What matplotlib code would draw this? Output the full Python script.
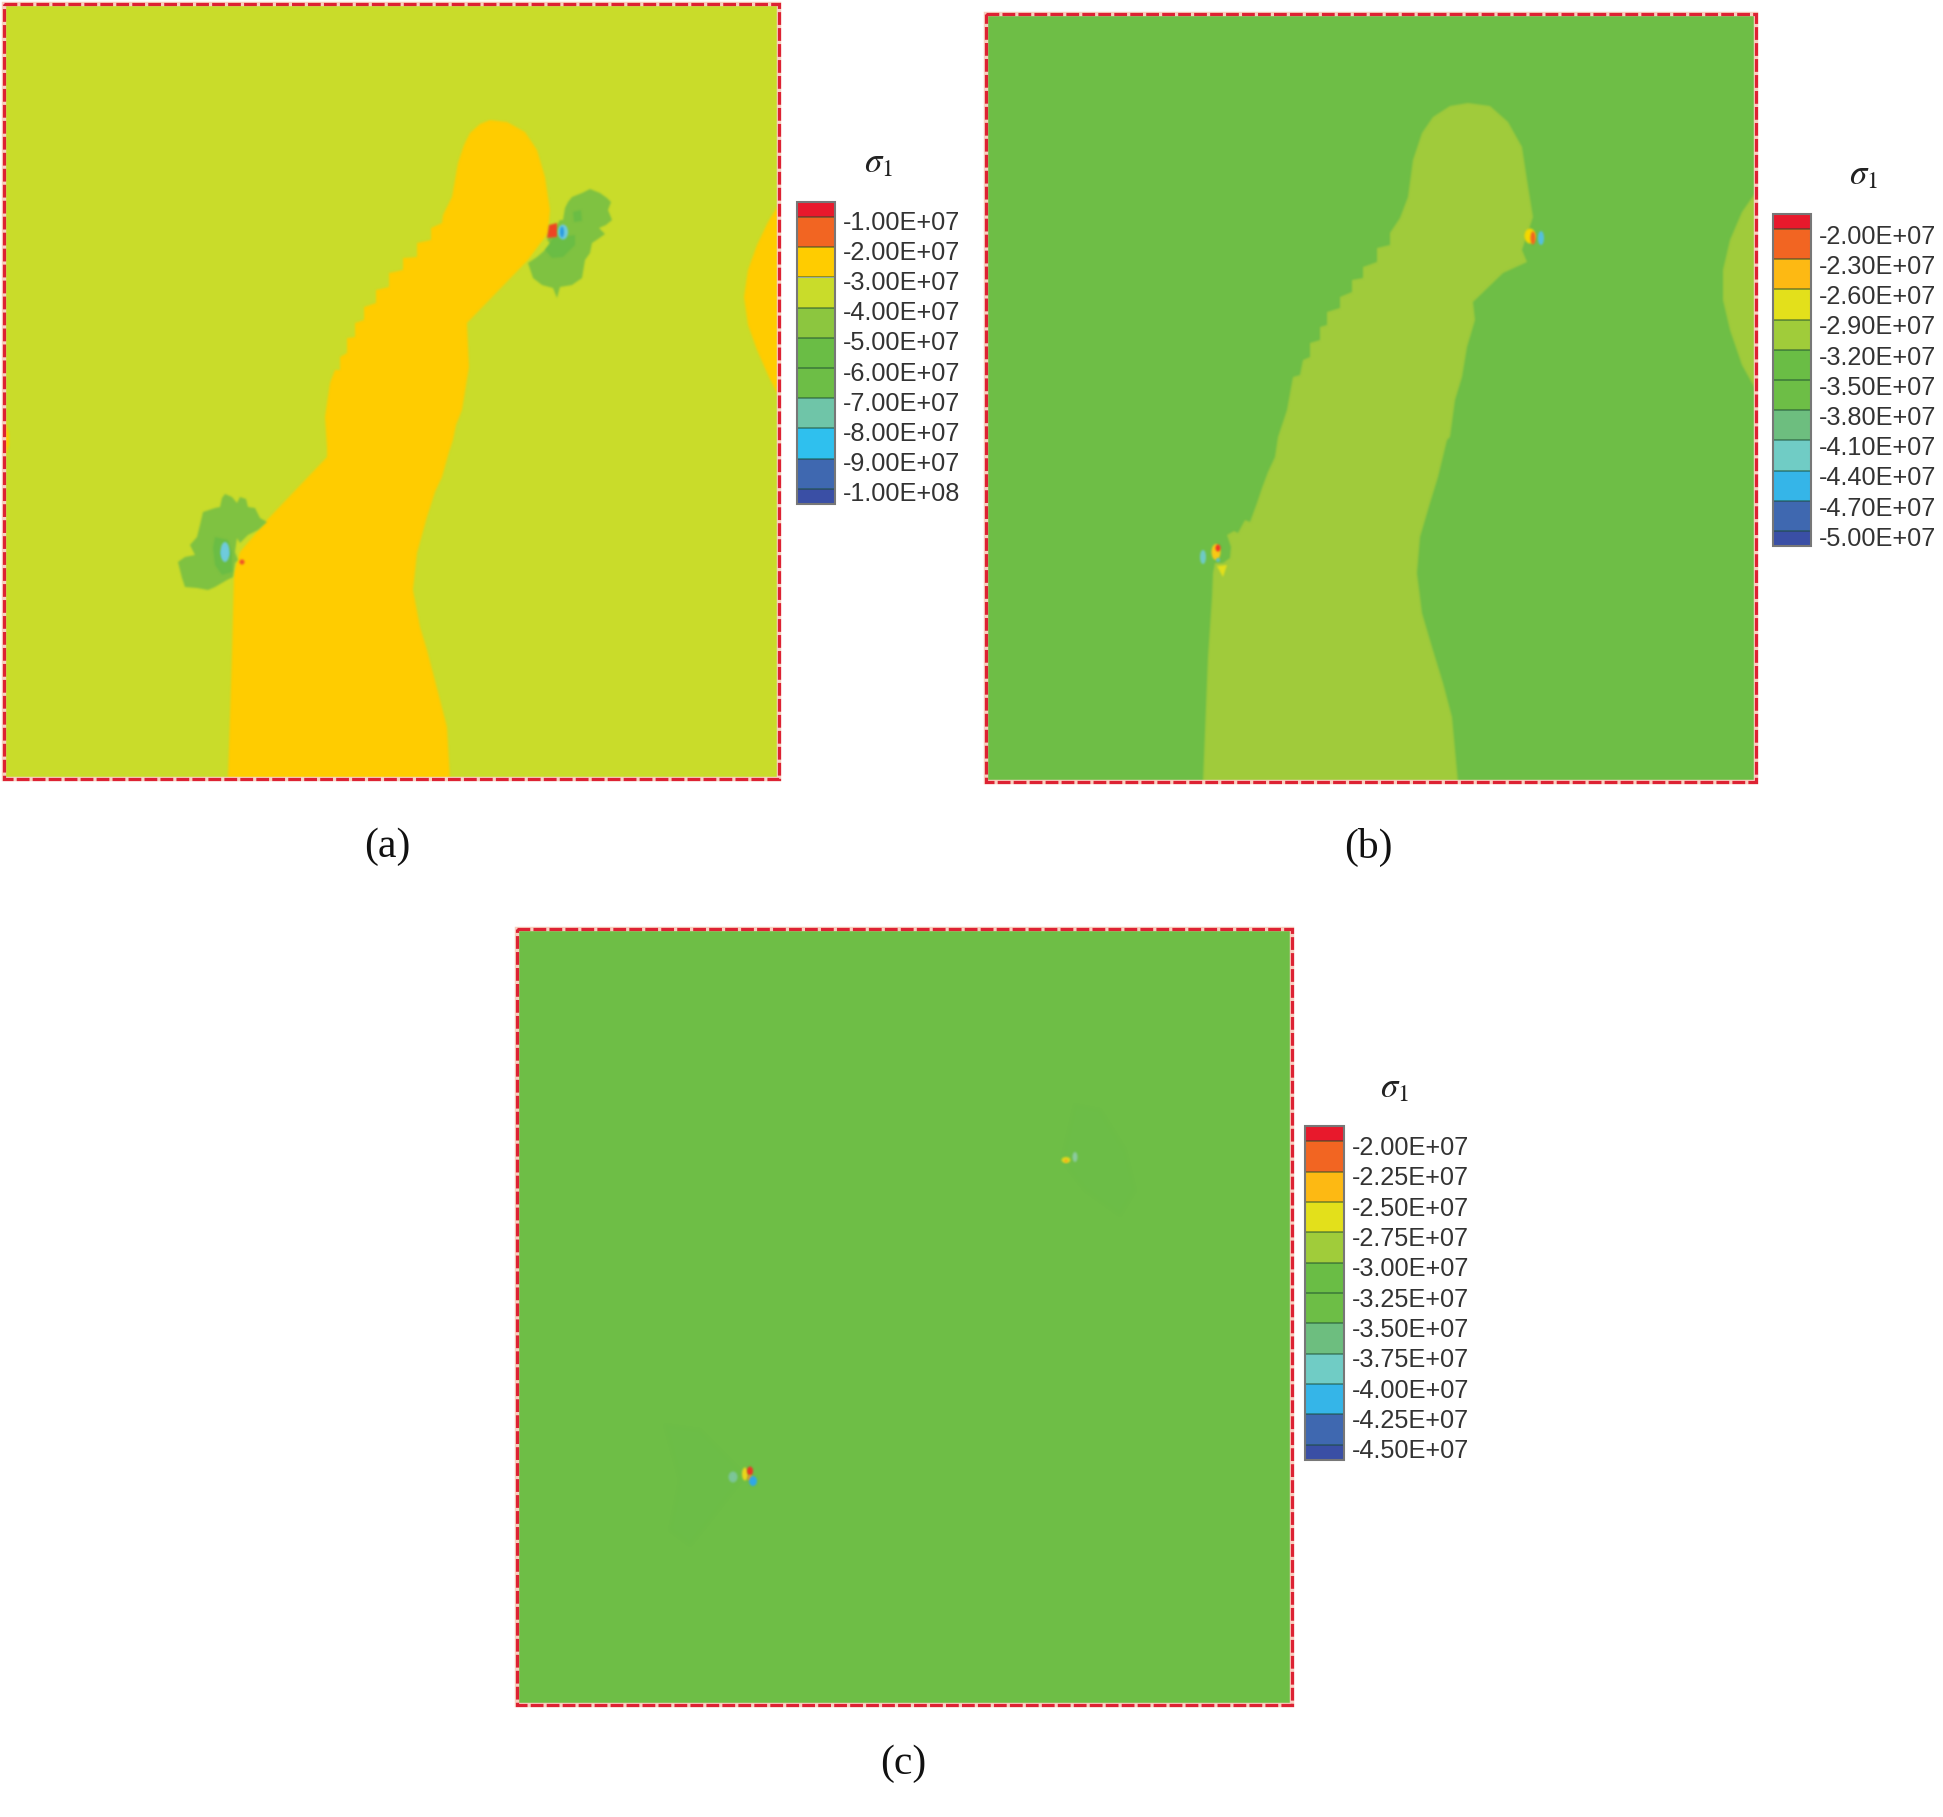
import numpy as np
import matplotlib
matplotlib.use('Agg')
import matplotlib.pyplot as plt
from matplotlib.patches import Polygon, Ellipse, Rectangle

W, H = 1943, 1817
plt.rcParams['mathtext.fontset'] = 'stix'

# legend labels
labels_a = ['-1.00E+07', '-2.00E+07', '-3.00E+07', '-4.00E+07', '-5.00E+07', '-6.00E+07',
            '-7.00E+07', '-8.00E+07', '-9.00E+07', '-1.00E+08']
labels_b = ['-2.00E+07', '-2.30E+07', '-2.60E+07', '-2.90E+07', '-3.20E+07', '-3.50E+07',
            '-3.80E+07', '-4.10E+07', '-4.40E+07', '-4.70E+07', '-5.00E+07']
labels_c = ['-2.00E+07', '-2.25E+07', '-2.50E+07', '-2.75E+07', '-3.00E+07', '-3.25E+07',
            '-3.50E+07', '-3.75E+07', '-4.00E+07', '-4.25E+07', '-4.50E+07']

# legend colours, top to bottom
colors_a = ['#E8192C', '#F26522', '#FFCC00', '#C9DC2A', '#8CC63F', '#6ABD45',
            '#6DBE46', '#6FC5A8', '#2FC0EE', '#3F68B0', '#3A4FA5']
colors_b = ['#E8192C', '#F26522', '#FDB913', '#E3E01B', '#A0CC3A', '#6ABD45',
            '#6DBE46', '#6DBE7F', '#70CCC5', '#35B5E8', '#3F68B0', '#3A4FA5']

# contour outlines (image pixels)
band_a = [(228, 779), (232, 653), (234, 573), (240, 552), (267, 520), (327, 457), (327, 447), (325, 417),
          (330, 383), (335, 370), (340, 370), (340, 357), (347, 353), (347, 338), (355, 337), (355, 323),
          (364, 320), (364, 307), (376, 303), (376, 290), (389, 287), (389, 273), (403, 270), (403, 258),
          (417, 257), (417, 243), (431, 240), (431, 228), (442, 223), (443, 215), (452, 197), (458, 163),
          (464, 145), (470, 133), (480, 124), (490, 120), (507, 122), (525, 132), (537, 150), (545, 177),
          (550, 210), (548, 233), (528, 260), (467, 323), (469, 367), (462, 410), (456, 425), (453, 440),
          (449, 452), (442, 477), (435, 492), (427, 517), (417, 553), (413, 590), (420, 627), (427, 650),
          (433, 673), (447, 727), (450, 779)]
lens_a = [(779, 204), (768, 222), (757, 245), (748, 270), (744, 297), (748, 325), (757, 350), (768, 375), (779, 397)]
sliver_a = [(4, 415), (9, 435), (9, 445), (4, 460)]
patch_a1 = [(568, 202), (572, 197), (582, 193), (590, 189), (600, 193), (607, 198), (611, 202), (608, 210),
            (612, 220), (606, 225), (599, 228), (605, 234), (598, 239), (592, 243), (590, 253), (585, 260),
            (582, 278), (572, 285), (560, 287), (557, 298), (553, 288), (542, 285), (533, 278), (528, 263),
            (537, 257), (545, 250), (552, 245), (547, 240), (560, 220), (563, 220), (565, 208)]
patch_a2 = [(222, 498), (225, 494), (232, 497), (237, 503), (240, 497), (246, 499), (248, 507), (255, 508),
            (260, 518), (267, 522), (258, 530), (248, 535), (240, 543), (237, 538), (236, 545), (235, 552),
            (238, 560), (235, 563), (233, 577), (227, 580), (215, 587), (208, 590), (197, 588), (185, 587),
            (182, 578), (178, 562), (185, 557), (195, 555), (190, 545), (197, 537), (200, 525), (203, 512),
            (215, 508), (220, 507)]
inner_a1 = [(545, 250), (553, 238), (575, 235), (575, 245), (563, 257), (552, 258)]
inner_a2 = [(215, 537), (228, 540), (232, 552), (232, 572), (222, 575), (215, 565), (213, 548)]
spot_a1 = [(573, 212), (581, 210), (582, 221), (574, 222)]
red_a1 = [(549, 225), (557, 223), (557, 237), (547, 238)]
blue_a2 = [(225, 545), (229, 555), (223, 558), (221, 553)]
band_b = [(1203, 782), (1208, 657), (1212, 597), (1213, 573), (1215, 563), (1223, 563), (1230, 558), (1231, 547),
          (1227, 535), (1234, 531), (1238, 533), (1245, 520), (1250, 522), (1257, 503), (1262, 488), (1268, 472),
          (1275, 457), (1278, 437), (1287, 410), (1293, 377), (1300, 375), (1303, 360), (1310, 357), (1310, 343),
          (1320, 340), (1320, 327), (1327, 325), (1327, 312), (1340, 308), (1340, 297), (1352, 292), (1352, 280),
          (1363, 278), (1363, 267), (1377, 262), (1377, 248), (1390, 245), (1390, 233), (1400, 218), (1408, 197),
          (1413, 160), (1422, 133), (1433, 117), (1450, 106), (1468, 103), (1490, 106), (1508, 122), (1522, 147),
          (1527, 180), (1533, 217), (1522, 250), (1527, 262), (1503, 273), (1473, 302), (1475, 320), (1467, 347),
          (1462, 377), (1455, 400), (1450, 437), (1447, 440), (1438, 477), (1430, 503), (1420, 537), (1417, 573),
          (1422, 613), (1432, 647), (1443, 683), (1452, 717), (1458, 782)]
lens_b = [(1756, 192), (1742, 212), (1730, 240), (1723, 270), (1723, 300), (1730, 330), (1742, 365), (1756, 390)]
triangle_b = [(1217, 566), (1227, 565), (1223, 577)]
patch_c1 = [(1075, 1105), (1100, 1110), (1125, 1150), (1135, 1190), (1120, 1215), (1085, 1190), (1062, 1160)]
patch_c2 = [(665, 1425), (700, 1430), (745, 1475), (710, 1520), (690, 1545), (670, 1530), (680, 1480)]

# hot spots at the crack tips: x, y, width, height, colour
tips_a = [(563, 232, 10, 15, '#6FCBDC'), (562, 232, 4, 11, '#2B9BE0'),
          (225, 552, 9, 20, '#6FCBDC'), (242, 562, 5, 5, '#F0522A')]
tips_b = [(1530, 236, 11, 15, '#F5D800'), (1533, 238, 5, 13, '#F26522'), (1541, 238, 6, 14, '#55C0E0'),
          (1216, 552, 9, 16, '#F9C915'), (1218, 548, 5, 7, '#EE3524'), (1203, 557, 6, 14, '#6FCBC8'),
          (1218, 560, 4, 4, '#60C0C0')]
tips_c = [(745, 1474, 6, 13, '#EBD61C'), (750, 1471, 6, 9, '#EE3524'), (750, 1478, 5, 6, '#F7941D'),
          (753, 1481, 8, 10, '#2FA8E8'), (733, 1477, 9, 11, '#7CC698'),
          (1066, 1160, 9, 6, '#E3D81B'), (1066, 1161, 3, 3, '#F7A51D'), (1075, 1157, 5, 10, '#8CCBA0')]


def blur(img, dpi):
    # soften only the alpha so the shape keeps its own colour
    pad = 6
    flat = img.reshape(-1, 4)
    color = flat[np.argmax(flat[:, 3])][:3]
    alpha = np.pad(img[:, :, 3], pad)
    for axis in [0, 1]:
        alpha = sum(w * np.roll(alpha, i - 2, axis=axis) for i, w in enumerate([1, 4, 6, 4, 1])) / 16
    out = np.zeros(alpha.shape + (4,))
    out[:, :, :3] = color
    out[:, :, 3] = alpha
    return out, -pad, -pad


def makeAxes(left, top, right, bottom):
    return fig.add_axes([left / W, 1 - bottom / H, (right - left) / W, (bottom - top) / H])


def drawPanel(box, background, shapes, tips):
    left, top, right, bottom = box
    ax = makeAxes(left, top, right, bottom)
    ax.set_xlim(left, right)
    ax.set_ylim(bottom, top)
    ax.axis('off')
    ax.add_patch(Rectangle((left, top), right - left, bottom - top, color=background, lw=0))
    for pts, col in shapes:
        p = Polygon(pts, closed=True, facecolor=col, edgecolor='none')
        p.set_agg_filter(blur)
        ax.add_patch(p)
    for x, y, w, h, col in tips:
        e = Ellipse((x, y), w, h, facecolor=col, edgecolor='none')
        e.set_agg_filter(blur)
        ax.add_patch(e)
    ax.add_patch(Rectangle((left, top), right - left, bottom - top, facecolor='none',
                           edgecolor='#F8CFC0', lw=3.2, clip_on=False))
    ax.add_patch(Rectangle((left, top), right - left, bottom - top, facecolor='none', edgecolor='#DD2233',
                           lw=2.3, linestyle=(0, (4.0, 1.0)), clip_on=False))


def drawLegend(box, labels, colors, title_x, title_y, label_shift):
    left, top, right, bottom = box
    n = len(labels)
    ax = makeAxes(left, top, right, bottom)
    ax.set_xlim(0, 1)
    ax.set_ylim(n, 0)
    ax.axis('off')
    edges = [0] + [i + 0.5 for i in range(n)] + [n]
    for i, col in enumerate(colors):
        ax.bar(0.5, edges[i + 1] - edges[i], width=1, bottom=edges[i], color=col)
        if i < n:
            ax.plot([0, 1], [edges[i + 1]] * 2, color='#1A4A30', lw=1.2, alpha=0.55, zorder=4)
    ax.add_patch(Rectangle((0, 0), 1, n, facecolor='none', edgecolor='#777777', lw=1.5, clip_on=False, zorder=5))
    for i, lab in enumerate(labels):
        ax.text(1.2, i + label_shift, lab, fontsize=18.2, family='Liberation Sans', color='#333333',
                ha='left', va='center')
    fig.text(title_x / W, 1 - title_y / H, r'$\sigma_1$', fontsize=25, color='#222222',
             ha='center', va='center')


fig = plt.figure(figsize=(W / 100, H / 100), dpi=100, facecolor='white')

drawPanel((4, 4, 779, 779), '#C9DC2A',
          [(band_a, '#FFCC00'), (lens_a, '#FFCC00'), (sliver_a, '#FFCC00'),
           (patch_a1, '#7FC241'), (patch_a2, '#7FC241'), (inner_a1, '#6ABD45'), (inner_a2, '#6ABD45'),
           (spot_a1, '#6ABD45'), (red_a1, '#EE4423'), (blue_a2, '#2FB5EE')], tips_a)
drawPanel((986, 14, 1756, 782), '#6EBE46',
          [(band_b, '#A0CB3B'), (lens_b, '#A0CB3B'), (triangle_b, '#E3E01B')], tips_b)
drawPanel((517, 929, 1292, 1705), '#6EBE46', [(patch_c1, '#6CBD47'), (patch_c2, '#6CBD47')], tips_c)

drawLegend((797, 202, 835, 504), labels_a, colors_a, 878, 162, 0.68)
drawLegend((1773, 214, 1811, 546), labels_b, colors_b, 1863, 174, 0.76)
drawLegend((1305, 1126, 1344, 1460), labels_c, colors_b, 1394, 1087, 0.72)

fig.text(387 / W, 1 - 847 / H, '(a)', fontsize=30, family='Liberation Serif', ha='center', va='center', color='#111111')
fig.text(1368 / W, 1 - 847 / H, '(b)', fontsize=30, family='Liberation Serif', ha='center', va='center', color='#111111')
fig.text(903 / W, 1 - 1764 / H, '(c)', fontsize=30, family='Liberation Serif', ha='center', va='center', color='#111111')

fig.savefig('out.png', dpi=100)
